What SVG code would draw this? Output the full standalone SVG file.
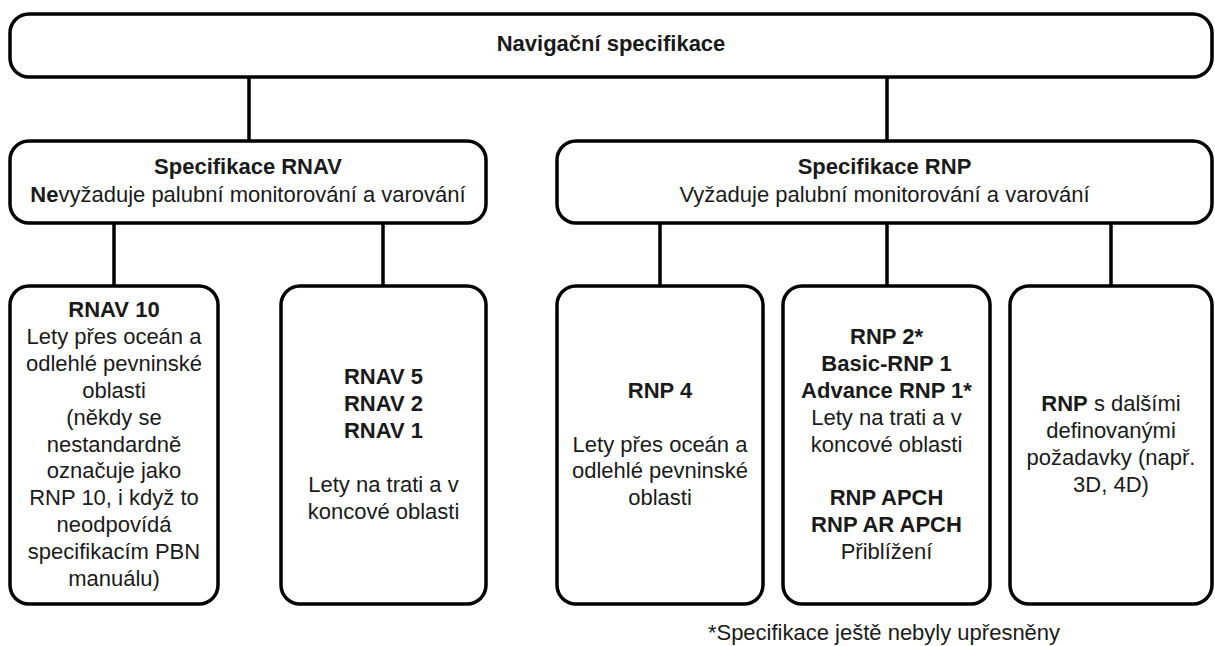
<svg xmlns="http://www.w3.org/2000/svg" width="1215" height="646" viewBox="0 0 1215 646">
<style>
  .box { fill: #ffffff; stroke: #000000; stroke-width: 3.5; }
  .conn { stroke: #000000; stroke-width: 3.5; fill: none; }
  text { font-family: "Liberation Sans", Arial, sans-serif; font-size: 22px; fill: #1a1a1a; text-anchor: middle; }
  .b { font-weight: bold; }
</style>
<rect width="1215" height="646" fill="#ffffff"/>
<g id="connectors">
  <line class="conn" x1="249" y1="77" x2="249" y2="141"/>
  <line class="conn" x1="887" y1="77" x2="887" y2="141"/>
  <line class="conn" x1="114" y1="223" x2="114" y2="286"/>
  <line class="conn" x1="383" y1="223" x2="383" y2="286"/>
  <line class="conn" x1="660" y1="223" x2="660" y2="286"/>
  <line class="conn" x1="887" y1="223" x2="887" y2="286"/>
  <line class="conn" x1="1111" y1="223" x2="1111" y2="286"/>
</g>
<g id="nav-spec">
  <rect class="box" x="10" y="14" width="1202" height="63" rx="19"/>
  <text x="611" y="51" class="b">Navigační specifikace</text>
</g>
<g id="rnav-spec">
  <rect class="box" x="10" y="141" width="476" height="82" rx="19"/>
  <text x="248" y="174" class="b">Specifikace RNAV</text>
  <text x="248" y="201.7"><tspan class="b">Ne</tspan>vyžaduje palubní monitorování a varování</text>
</g>
<g id="rnp-spec">
  <rect class="box" x="557" y="141" width="655" height="82" rx="19"/>
  <text x="884.5" y="174" class="b">Specifikace RNP</text>
  <text x="884.5" y="201.7">Vyžaduje palubní monitorování a varování</text>
</g>
<g id="rnav10">
  <rect class="box" x="10" y="286" width="208" height="318" rx="19"/>
  <text x="114" y="317" class="b">RNAV 10</text>
  <text x="114" y="343.9">Lety přes oceán a</text>
  <text x="114" y="370.8">odlehlé pevninské</text>
  <text x="114" y="397.7">oblasti</text>
  <text x="114" y="424.6">(někdy se</text>
  <text x="114" y="451.5">nestandardně</text>
  <text x="114" y="478.4">označuje jako</text>
  <text x="114" y="505.3">RNP 10, i když to</text>
  <text x="114" y="532.2">neodpovídá</text>
  <text x="114" y="559.1">specifikacím PBN</text>
  <text x="114" y="586">manuálu)</text>
</g>
<g id="rnav5">
  <rect class="box" x="281" y="286" width="205" height="318" rx="19"/>
  <text x="383.5" y="384" class="b">RNAV 5</text>
  <text x="383.5" y="410.9" class="b">RNAV 2</text>
  <text x="383.5" y="437.8" class="b">RNAV 1</text>
  <text x="383.5" y="491.6">Lety na trati a v</text>
  <text x="383.5" y="518.5">koncové oblasti</text>
</g>
<g id="rnp4">
  <rect class="box" x="557" y="286" width="206" height="318" rx="19"/>
  <text x="660" y="397.7" class="b">RNP 4</text>
  <text x="660" y="451.5">Lety přes oceán a</text>
  <text x="660" y="478.4">odlehlé pevninské</text>
  <text x="660" y="505.3">oblasti</text>
</g>
<g id="rnp2">
  <rect class="box" x="783" y="286" width="207" height="318" rx="19"/>
  <text x="886.5" y="343.9" class="b">RNP 2*</text>
  <text x="886.5" y="370.8" class="b">Basic-RNP 1</text>
  <text x="886.5" y="397.7" class="b">Advance RNP 1*</text>
  <text x="886.5" y="424.6">Lety na trati a v</text>
  <text x="886.5" y="451.5">koncové oblasti</text>
  <text x="886.5" y="505.3" class="b">RNP APCH</text>
  <text x="886.5" y="532.2" class="b">RNP AR APCH</text>
  <text x="886.5" y="559.1">Přiblížení</text>
</g>
<g id="rnp-other">
  <rect class="box" x="1010" y="286" width="202" height="318" rx="19"/>
  <text x="1111" y="411.2"><tspan class="b">RNP</tspan> s dalšími</text>
  <text x="1111" y="438.1">definovanými</text>
  <text x="1111" y="465">požadavky (např.</text>
  <text x="1111" y="491.9">3D, 4D)</text>
</g>
<g id="footnote">
  <text x="884" y="640">*Specifikace ještě nebyly upřesněny</text>
</g>
</svg>
